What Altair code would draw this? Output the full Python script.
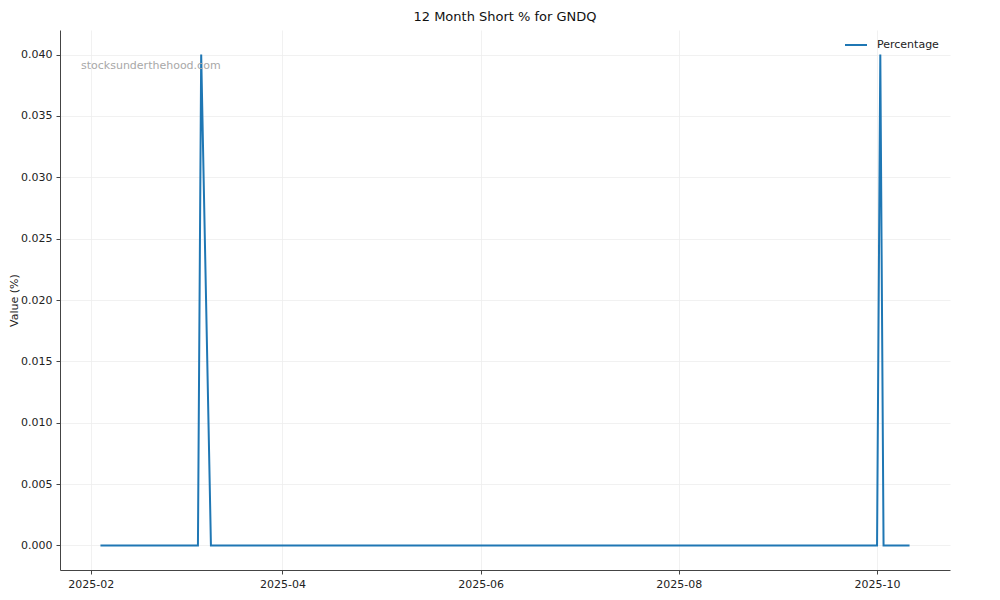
import altair as alt
import pandas as pd

# Key observations of the series (flat zero between them)
dates = ["2025-02-04", "2025-03-06", "2025-03-07", "2025-03-10",
         "2025-10-01", "2025-10-02", "2025-10-03", "2025-10-11"]
values = [0.0, 0.0, 0.04, 0.0, 0.0, 0.04, 0.0, 0.0]
series_name = "Percentage"

x_ticks = ["2025-02-01", "2025-04-01", "2025-06-01", "2025-08-01", "2025-10-01"]
y_ticks = [0.0, 0.005, 0.01, 0.015, 0.02, 0.025, 0.03, 0.035, 0.04]

df = pd.DataFrame({"date": dates, "value": values, "series": [series_name] * len(dates)})

FONT = "DejaVu Sans"

def dt(s):
    y, m, d = [int(p) for p in s.split("-")]
    return alt.DateTime(year=y, month=m, date=d, utc=True)

x_scale = alt.Scale(type="utc", domain=[alt.DateTime(year=2025, month=1, date=22, hours=13, minutes=12, utc=True),
                                        alt.DateTime(year=2025, month=10, date=23, hours=10, minutes=48, utc=True)])
y_scale = alt.Scale(domain=[-0.002, 0.042], nice=False, zero=False)

line = alt.Chart(df).mark_line(strokeWidth=2, clip=True).encode(
    x=alt.X("date:T", scale=x_scale,
            axis=alt.Axis(values=[dt(s) for s in x_ticks], labelExpr="utcFormat(datum.value, '%Y-%m')",
                          title=None, grid=True, labelFlush=False, labelOverlap=False)),
    y=alt.Y("value:Q", scale=y_scale,
            axis=alt.Axis(values=y_ticks, format=".3f", title="Value (%)", grid=True,
                          titleX=-46, titleY=270, titleAlign="center", titleBaseline="middle", titleAngle=-90)),
    color=alt.Color("series:N", scale=alt.Scale(range=["#1f77b4"]),
                    legend=alt.Legend(title=None, orient="none", legendX=784, legendY=3,
                                      symbolType="stroke", symbolSize=484, symbolStrokeWidth=2,
                                      labelFontSize=11, labelFont=FONT, labelColor="#222",
                                      labelOffset=9, padding=0)),
)

watermark = alt.Chart(pd.DataFrame({"t": ["stocksunderthehood.com"]})).mark_text(
    align="left", baseline="middle", fontSize=11, font=FONT, color="#a8a8a8"
).encode(x=alt.value(21), y=alt.value(36), text="t:N")

chart = alt.layer(line, watermark).properties(
    width=890, height=540,
    title=alt.TitleParams("12 Month Short % for GNDQ", fontSize=13, font=FONT, fontWeight="normal",
                          color="#111", offset=6, anchor="middle"),
    autosize=alt.AutoSizeParams(type="none"),
    padding={"left": 52, "top": 22, "right": 30, "bottom": 30},
).configure_view(stroke=None).configure_axis(
    labelFont=FONT, labelFontSize=11, labelColor="#222", titleFont=FONT, titleFontSize=11,
    titleFontWeight="normal", titleColor="#222",
    domainColor="#444", domainWidth=1, tickColor="#444", tickSize=4, tickWidth=1,
    gridColor="#eeeeee", gridWidth=0.8, labelPadding=4,
)

chart.save("out.html", embed_options={"renderer": "svg", "actions": False})
